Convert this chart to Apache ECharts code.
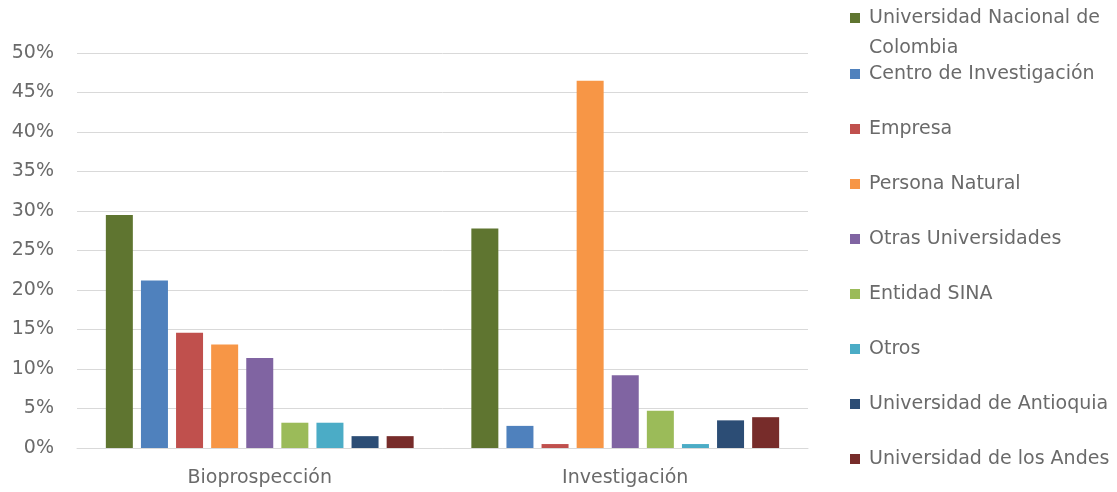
<!DOCTYPE html>
<html>
<head>
<meta charset="utf-8">
<script src="https://cdn.jsdelivr.net/npm/echarts@6/dist/echarts.min.js"></script>
<style>
html,body{margin:0;padding:0;background:#fff;}
#chart{width:1117px;height:492px;}
</style>
</head>
<body>
<div id="chart"></div>
<script>
var categories = ['Bioprospección', 'Investigación'];
var seriesNames = [
  'Universidad Nacional de Colombia',
  'Centro de Investigación',
  'Empresa',
  'Persona Natural',
  'Otras Universidades',
  'Entidad SINA',
  'Otros',
  'Universidad de Antioquia',
  'Universidad de los Andes'
];
var unalValues = [29.5, 27.8];
var centroValues = [21.2, 2.8];
var empresaValues = [14.6, 0.5];
var personaValues = [13.1, 46.5];
var otrasUnivValues = [11.4, 9.2];
var sinaValues = [3.2, 4.7];
var otrosValues = [3.2, 0.5];
var antioquiaValues = [1.5, 3.5];
var andesValues = [1.5, 3.9];
var yTicks = [0, 5, 10, 15, 20, 25, 30, 35, 40, 45, 50];

var colors = ['#5F7530', '#4F81BD', '#C0504D', '#F79646', '#8064A2', '#9BBB59', '#4BACC6', '#2C4D75', '#772C2A'];
var allValues = [unalValues, centroValues, empresaValues, personaValues, otrasUnivValues, sinaValues, otrosValues, antioquiaValues, andesValues];

var FONT = 'DejaVu Sans';
var TEXT = '#6a6a6a';

var chart = echarts.init(document.getElementById('chart'), null, {renderer: 'canvas'});
var series = seriesNames.map(function (n, i) {
  return {
    name: n,
    type: 'bar',
    data: allValues[i],
    barWidth: 27,
    barGap: '30%',
    itemStyle: {color: colors[i]},
    emphasis: {disabled: true}
  };
});

chart.setOption({
  animation: false,
  color: colors,
  grid: {left: 77, right: 309, top: 53, bottom: 44, containLabel: false, outerBoundsMode: 'none'},
  legend: [
    {
      data: [seriesNames[0]],
      orient: 'vertical',
      left: 850,
      top: -27,
      padding: 0,
      icon: 'rect',
      itemWidth: 10,
      itemHeight: 10,
      selectedMode: false,
      formatter: function () { return ' \nUniversidad Nacional de\nColombia'; },
      textStyle: {fontFamily: FONT, fontSize: 19, color: TEXT, lineHeight: 30, padding: [0, 0, 0, 4]}
    },
    {
      data: seriesNames.slice(1),
      orient: 'vertical',
      left: 850,
      top: 64,
      padding: 0,
      icon: 'rect',
      itemWidth: 10,
      itemHeight: 10,
      itemGap: 35,
      selectedMode: false,
      textStyle: {fontFamily: FONT, fontSize: 19, color: TEXT, lineHeight: 20, padding: [0, 0, 0, 4]}
    }
  ],
  xAxis: {
    type: 'category',
    data: categories,
    axisLine: {show: true, lineStyle: {color: '#d9d9d9', width: 1}},
    axisTick: {show: false},
    axisLabel: {fontFamily: FONT, fontSize: 19, color: TEXT, margin: 21}
  },
  yAxis: {
    type: 'value',
    min: 0,
    max: 50,
    interval: 5,
    axisLine: {show: false},
    axisTick: {show: false},
    splitLine: {lineStyle: {color: '#d9d9d9', width: 1}},
    axisLabel: {
      fontFamily: FONT, fontSize: 19, color: TEXT, margin: 23,
      formatter: function (v) { return yTicks.indexOf(v) >= 0 ? v + '%' : ''; }
    }
  },
  series: series
});
</script>
</body>
</html>
